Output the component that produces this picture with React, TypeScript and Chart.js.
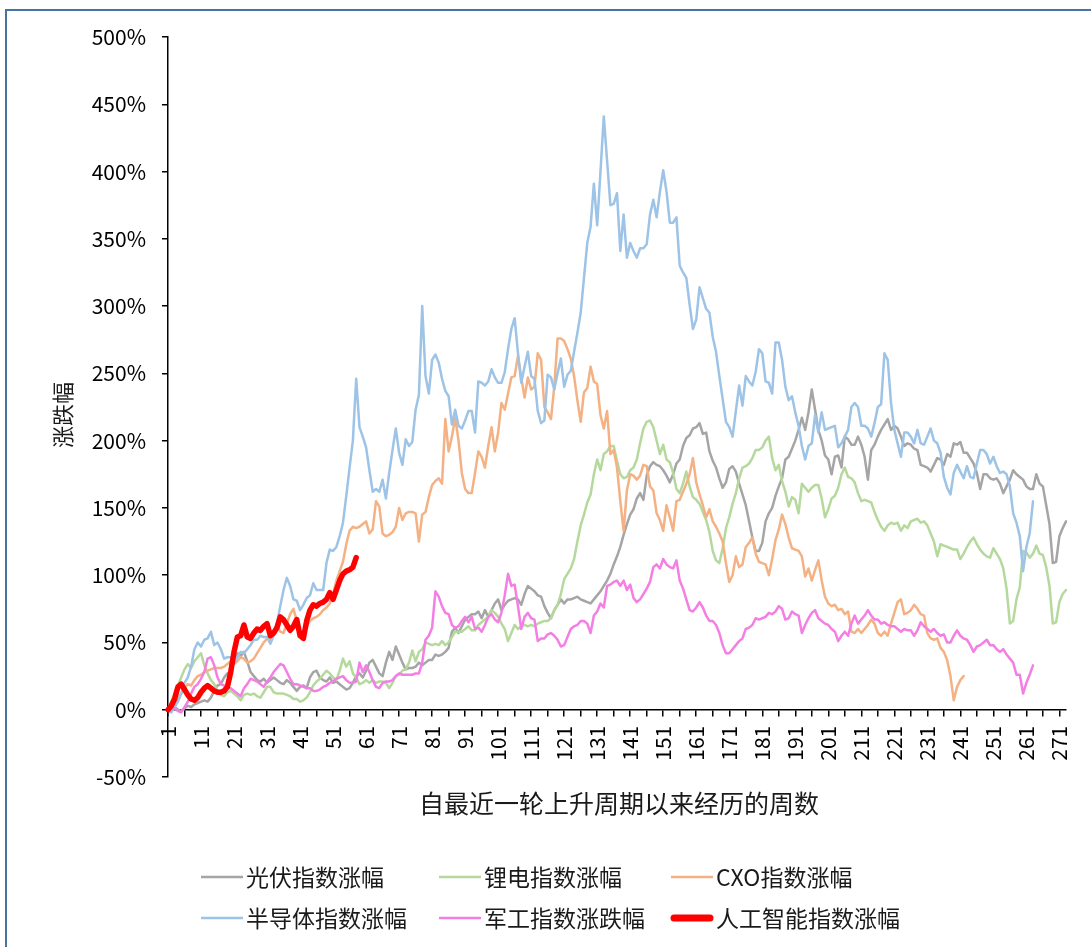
import React, { useEffect, useRef } from "react";
import { Chart, registerables } from "chart.js";

Chart.register(...registerables);

const FONT = "'Noto Sans CJK SC', 'Noto Sans', sans-serif";

const WEEK_COUNT = 273;
const WEEKS: string[] = Array.from({ length: WEEK_COUNT }, (_, i) => String(i + 1));

const Y_MIN = -50;
const Y_MAX = 500;
const Y_STEP = 50;

const SERIES_NAMES = ["光伏指数涨幅", "锂电指数涨幅", "CXO指数涨幅", "半导体指数涨幅", "军工指数涨跌幅", "人工智能指数涨幅"];

const PV = [
  0, 1, 2, 0, -1, 1, 3, 2, 4, 5,
  6, 7, 6, 9, 14, 18, 19, 24, 27, 29,
  36, 42, 40, 43, 36, 28, 25, 22, 21, 23,
  20, 22, 24, 22, 20, 19, 22, 20, 17, 14,
  17, 18, 16, 24, 28, 29, 24, 22, 21, 24,
  20, 21, 19, 17, 15, 16, 20, 25, 27, 24,
  29, 35, 37, 32, 27, 25, 35, 43, 37, 47,
  41, 35, 30, 31, 31, 32, 35, 33, 35, 37,
  37, 41, 40, 41, 43, 46, 58, 61, 57, 62,
  67, 69, 71, 71, 73, 68, 74, 69, 74, 79,
  82, 74, 78, 81, 82, 83, 82, 78, 86, 92,
  90, 88, 85, 84, 77, 72, 68, 74, 78, 82,
  79, 82, 82, 83, 84, 82, 81, 80, 79, 82,
  85, 88, 92, 96, 101, 108, 114, 121, 130, 138,
  145, 149, 157, 161, 156, 174, 181, 184, 182, 181,
  178, 174, 169, 175, 183, 186, 196, 202, 204, 209,
  210, 213, 205, 206, 192, 185, 180, 172, 165, 169,
  179, 181, 177, 168, 160, 152, 140, 128, 118, 118,
  124, 140, 146, 150, 159, 166, 172, 186, 188, 194,
  200, 208, 217, 208, 221, 238, 223, 208, 200, 189,
  186, 175, 188, 189, 180, 203, 201, 197, 197, 203,
  197, 188, 171, 193, 197, 203, 208, 212, 216, 208,
  211, 209, 203, 196, 198, 197, 194, 193, 182, 181,
  180, 177, 182, 187, 186, 182, 190, 188, 198, 197,
  199, 191, 191, 187, 183, 176, 164, 175, 175, 172,
  171, 172, 168, 161, 166, 171, 178, 175, 173, 171,
  166, 164, 164, 175, 168, 166, 152, 138, 109, 110,
  129, 135, 140,
];

const LITHIUM = [
  0, 6, 12, 18, 24, 30, 34, 31, 36, 39,
  42, 33, 27, 22, 19, 14, 11, 10, 13, 14,
  12, 10, 7, 11, 12, 11, 12, 10, 9, 13,
  17, 17, 13, 12, 12, 12, 11, 10, 8, 8,
  6, 7, 9, 13, 18, 21, 23, 26, 29, 27,
  24, 22, 29, 38, 32, 36, 27, 24, 19, 20,
  22, 20, 22, 20, 21, 21, 20, 16, 20, 25,
  26, 29, 30, 35, 44, 36, 43, 45, 50, 49,
  48, 49, 48, 51, 48, 50, 54, 58, 58, 58,
  60, 62, 59, 59, 63, 65, 67, 69, 74, 72,
  69, 64, 60, 51, 57, 63, 60, 62, 63, 62,
  63, 62, 64, 65, 66, 66, 68, 74, 78, 86,
  97, 101, 105, 112, 125, 137, 145, 154, 160, 175,
  186, 178, 190, 192, 196, 196, 185, 175, 172, 173,
  178, 180, 186, 198, 209, 214, 215, 210, 200, 190,
  197, 186, 184, 176, 164, 161, 168, 177, 166, 158,
  156, 153, 147, 141, 132, 118, 111, 109, 120, 135,
  143, 153, 161, 172, 180, 181, 183, 187, 193, 193,
  195, 200, 203, 187, 178, 182, 170, 162, 151, 158,
  156, 146, 168, 165, 162, 165, 167, 167, 157, 143,
  149, 157, 159, 165, 175, 180, 173, 172, 169, 161,
  155, 156, 155, 154, 147, 141, 136, 133, 137, 139,
  138, 139, 133, 137, 135, 140, 141, 142, 139, 140,
  137, 131, 125, 114, 123, 122, 121, 120, 119, 119,
  112, 116, 121, 125, 128, 123, 119, 116, 114, 113,
  120, 116, 112, 105, 90, 64, 66, 82, 91, 118,
  117, 113, 116, 122, 116, 115, 106, 92, 64, 65,
  80, 86, 89,
];

const CXO = [
  0, 2, 5, 8, 12, 16, 19, 18, 22, 25,
  26, 28, 29, 30, 31, 31, 31, 32, 34, 36,
  34, 36, 39, 38, 35, 36, 38, 42, 46, 50,
  53, 52, 57, 62, 58, 57, 64, 71, 75, 66,
  56, 57, 62, 66, 68, 69, 71, 74, 76, 79,
  86, 96, 103, 110, 123, 133, 136, 135, 136, 138,
  140, 131, 134, 155, 151, 131, 129, 130, 132, 136,
  150, 141, 146, 147, 147, 146, 125, 145, 147, 158,
  167, 170, 172, 168, 216, 192, 203, 217, 200, 176,
  164, 161, 161, 176, 192, 188, 180, 196, 210, 192,
  206, 228, 223, 235, 247, 248, 263, 247, 232, 247,
  238, 240, 265, 260, 225, 221, 216, 240, 276, 276,
  274, 268, 261, 248, 230, 214, 236, 239, 255, 244,
  242, 219, 209, 222, 190, 193, 180, 155, 133, 163,
  175, 174, 171, 174, 182, 181, 166, 163, 146, 141,
  133, 152, 143, 133, 155, 156, 162, 168, 175, 187,
  169, 160, 152, 143, 149, 140, 136, 131, 125, 109,
  95, 100, 114, 106, 108, 121, 124, 128, 116, 110,
  109, 108, 100, 112, 126, 134, 145, 138, 128, 120,
  119, 118, 114, 99, 105, 96, 104, 111, 96, 84,
  79, 77, 78, 74, 75, 71, 73, 58, 57, 60,
  57, 60, 63, 67, 64, 57, 55, 58, 55, 64,
  72, 80, 82, 71, 72, 74, 78, 75, 71, 70,
  57, 53, 52, 53, 46, 43, 37, 25, 7, 17,
  22, 25,
];

const SEMI = [
  0, -2, 2, 6, 12, 20, 24, 32, 45, 50,
  47, 52, 53, 58, 48, 50, 45, 38, 39, 39,
  34, 39, 43, 42, 45, 48, 52, 52, 55, 54,
  54, 49, 55, 64, 77, 89, 98, 92, 82, 81,
  74, 78, 83, 85, 94, 89, 89, 89, 109, 119,
  118, 121, 129, 139, 159, 180, 200, 246, 210, 203,
  195, 178, 162, 164, 162, 171, 157, 176, 193, 209,
  191, 182, 201, 196, 199, 223, 234, 300, 248, 235,
  260, 264, 258, 246, 237, 233, 212, 223, 211, 209,
  215, 222, 222, 206, 244, 243, 241, 244, 253, 247,
  243, 243, 251, 268, 283, 291, 265, 243, 255, 266,
  248, 246, 222, 213, 215, 249, 247, 238, 250, 261,
  240, 249, 252, 266, 280, 295, 321, 347, 359, 391,
  360, 400, 441, 408, 375, 376, 384, 341, 368, 336,
  347, 341, 336, 343, 343, 346, 368, 379, 366, 385,
  401, 385, 362, 362, 366, 330, 325, 321, 301, 283,
  290, 314, 306, 298, 295, 277, 266, 248, 231, 214,
  210, 203, 222, 241, 226, 248, 244, 241, 251, 268,
  265, 244, 243, 235, 273, 273, 260, 240, 230, 233,
  221, 211, 196, 186, 196, 198, 219, 206, 221, 208,
  209, 210, 211, 195, 198, 203, 208, 225, 228, 225,
  211, 211, 209, 203, 213, 225, 227, 265, 260, 228,
  208, 198, 188, 206, 206, 203, 198, 208, 198, 197,
  203, 209, 200, 198, 191, 173, 165, 160, 176, 182,
  177, 172, 181, 173, 172, 183, 193, 193, 190, 183,
  188, 181, 176, 177, 175, 166, 146, 139, 129, 103,
  121, 131, 155,
];

const MILITARY = [
  0, 1, 1, -1, -2, 2, 6, 12, 17, 19,
  23, 28, 38, 39, 33, 24, 19, 18, 16, 16,
  14, 12, 10, 16, 19, 23, 22, 21, 19, 17,
  21, 24, 28, 31, 34, 33, 28, 23, 19, 19,
  18, 17, 16, 16, 14, 14, 15, 17, 18, 20,
  21, 23, 24, 25, 22, 20, 20, 21, 35, 28,
  33, 28, 22, 17, 16, 20, 21, 21, 22, 25,
  27, 26, 26, 26, 26, 27, 27, 35, 52, 55,
  61, 88, 84, 77, 72, 71, 63, 61, 62, 66,
  69, 65, 69, 60, 61, 58, 63, 69, 71, 67,
  65, 72, 85, 101, 92, 93, 77, 60, 69, 72,
  68, 67, 51, 53, 53, 56, 57, 55, 52, 47,
  48, 54, 60, 62, 63, 66, 66, 64, 57, 70,
  73, 79, 76, 92, 93, 95, 96, 92, 96, 89,
  93, 83, 80, 82, 86, 90, 95, 106, 108, 105,
  112, 108, 106, 105, 111, 96, 90, 82, 74, 73,
  76, 80, 76, 70, 66, 66, 63, 57, 48, 42,
  42, 45, 48, 51, 53, 60, 61, 63, 68, 67,
  68, 69, 72, 71, 73, 77, 75, 67, 68, 73,
  71, 70, 57, 63, 68, 72, 74, 68, 66, 64,
  63, 60, 58, 51, 55, 58, 55, 64, 70, 64,
  67, 70, 74, 70, 67, 67, 64, 65, 63, 62,
  62, 60, 58, 60, 59, 59, 55, 59, 65, 62,
  60, 58, 60, 57, 55, 56, 50, 50, 55, 59,
  55, 53, 52, 48, 43, 47, 48, 50, 52, 48,
  48, 45, 43, 45, 41, 38, 35, 26, 26, 12,
  20, 26, 33,
];

const AI = [
  0, 3, 8, 17, 19, 15, 11, 8, 7, 9,
  13, 16, 18, 16, 14, 13, 13, 14, 17, 28,
  43, 54, 55, 63, 54, 53, 57, 60, 59, 62,
  64, 55, 57, 61, 69, 67, 63, 59, 62, 67,
  55, 53, 66, 74, 78, 77, 79, 80, 82, 87,
  82, 89, 96, 101, 103, 104, 106, 113,
];

const COLORS = ["#A5A5A5", "#B5D99C", "#F4B183", "#9DC3E6", "#F47FE4", "#FF0000"];
const WIDTHS = [2.5, 2.5, 2.5, 2.5, 2.5, 5.5];

const legendPlugin = {
  id: "customLegendTitles",
  afterDraw(chart: any) {
    const ctx = chart.ctx as CanvasRenderingContext2D;
    ctx.save();
    // axis titles
    ctx.fillStyle = "#1a1a1a";
    ctx.font = `25px ${FONT}`;
    ctx.textAlign = "center";
    ctx.textBaseline = "middle";
    ctx.fillText("自最近一轮上升周期以来经历的周数", 619, 803);
    ctx.save();
    ctx.translate(63, 415);
    ctx.rotate(-Math.PI / 2);
    ctx.font = `22px ${FONT}`;
    ctx.fillText("涨跌幅", 0, 0);
    ctx.restore();

    // legend
    const cols = [201, 439, 671];
    const rows = [877, 918];
    ctx.font = `23px ${FONT}`;
    ctx.textAlign = "left";
    ctx.textBaseline = "middle";
    chart.data.datasets.forEach((ds: any, i: number) => {
      const x = cols[i % 3];
      const y = rows[Math.floor(i / 3)];
      ctx.beginPath();
      ctx.strokeStyle = ds.borderColor;
      ctx.lineWidth = i === 5 ? 7 : 2.5;
      ctx.lineCap = i === 5 ? "round" : "butt";
      ctx.moveTo(x + (i === 5 ? 3 : 0), y);
      ctx.lineTo(x + 42 - (i === 5 ? 3 : 0), y);
      ctx.stroke();
      ctx.fillStyle = "#1a1a1a";
      ctx.fillText(ds.label, x + 45, y);
    });
    ctx.restore();
  },
};

export default function App() {
  const canvasRef = useRef<HTMLCanvasElement | null>(null);

  useEffect(() => {
    document.body.style.margin = "0";
    const canvas = canvasRef.current;
    if (!canvas) return;
    const seriesData = [PV, LITHIUM, CXO, SEMI, MILITARY, AI];
    const chart = new Chart(canvas, {
      type: "line",
      data: {
        labels: WEEKS,
        datasets: seriesData.map((d, i) => ({
          label: SERIES_NAMES[i],
          data: d,
          borderColor: COLORS[i],
          backgroundColor: COLORS[i],
          borderWidth: WIDTHS[i],
          pointRadius: 0,
          pointHoverRadius: 0,
          tension: 0,
          fill: false,
          order: 6 - i,
          borderJoinStyle: "round" as const,
          borderCapStyle: "round" as const,
        })),
      },
      options: {
        responsive: false,
        animation: false,
        devicePixelRatio: 1,
        layout: { padding: { left: 0, right: 25, top: 37, bottom: 170 } },
        plugins: {
          legend: { display: false },
          tooltip: { enabled: false },
          title: { display: false },
        },
        scales: {
          x: {
            type: "category",
            position: { y: 0 } as any,
            offset: false,
            grid: {
              drawOnChartArea: false,
              drawTicks: true,
              tickLength: 6,
              lineWidth: 1.5,
              color: (c: any) => (c.index % 5 === 0 ? "#000" : "rgba(0,0,0,0)"),
            },
            border: { display: true, color: "#000", width: 1.5 },
            ticks: {
              autoSkip: false,
              maxRotation: 90,
              minRotation: 90,
              padding: 10,
              color: "#000",
              font: { family: FONT, size: 21 },
              callback: function (this: any, value: any, index: number) {
                return index % 10 === 0 ? this.getLabelForValue(value) : "";
              },
            },
            afterFit: (scale: any) => {
              scale.paddingLeft = 0;
              scale.paddingRight = 0;
            },
          },
          y: {
            type: "linear",
            position: "left",
            min: Y_MIN,
            max: Y_MAX,
            grid: {
              drawOnChartArea: false,
              drawTicks: true,
              tickLength: 6,
              lineWidth: 1.5,
              color: "#000",
            },
            border: { display: true, color: "#000", width: 1.5 },
            ticks: {
              stepSize: Y_STEP,
              padding: 16,
              color: "#000",
              font: { family: FONT, size: 21 },
              callback: (v: any) => `${v}%`,
            },
            afterFit: (scale: any) => {
              scale.width = 168;
              scale.paddingTop = 0;
              scale.paddingBottom = 0;
            },
          },
        },
      },
      plugins: [legendPlugin],
    });
    return () => chart.destroy();
  }, []);

  return (
    <div style={{ position: "relative", width: 1091, height: 947, overflow: "hidden", background: "#fff" }}>
      <div
        style={{
          position: "absolute",
          left: 5,
          top: 9,
          width: 1300,
          height: 1200,
          border: "2px solid #4672A4",
          boxSizing: "border-box",
        }}
      />
      <canvas ref={canvasRef} width={1091} height={947} style={{ position: "absolute", left: 0, top: 0, display: "block" }} />
    </div>
  );
}
